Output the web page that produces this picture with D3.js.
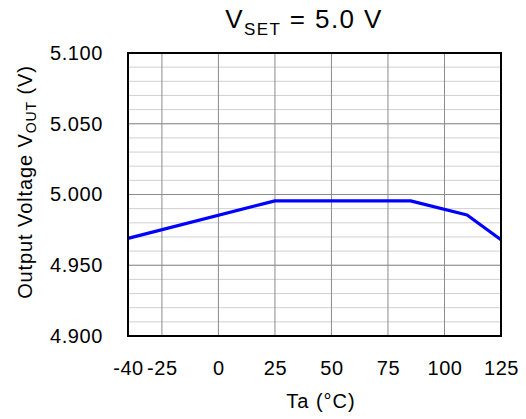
<!DOCTYPE html>
<html>
<head>
<meta charset="utf-8">
<script src="https://cdn.jsdelivr.net/npm/d3@7"></script>
<style>
  body { margin: 0; background: #fff; }
  svg { font-family: "Liberation Sans", Arial, sans-serif; }
</style>
</head>
<body>
<div id="graf"></div>
<script>
// datos
temps = [-40, 25, 85, 110, 125]
vout = [4.969, 4.9955, 4.9955, 4.9855, 4.968]
xTicks = [-40, -25, 0, 25, 50, 75, 100, 125]
yMajor = [4.900, 4.950, 5.000, 5.050, 5.100]

ancho_total = 526
alto_total = 419
margins = { top: 53, left: 128, right: 25, bottom: 83 }
ancho = ancho_total - margins.left - margins.right
alto = alto_total - margins.top - margins.bottom

svg = d3.select('#graf').append('svg')
  .attr('width', ancho_total)
  .attr('height', alto_total)

g = svg.append('g')
  .attr('transform', `translate(${margins.left},${margins.top})`)

x = d3.scaleLinear().domain([-40, 125]).range([0, ancho])
y = d3.scaleLinear().domain([4.9, 5.1]).range([alto, 0])

// grilla menor (cada 0.01)
yMinor = d3.range(0, 21).map(i => 4.9 + i * 0.01)
g.selectAll('.minor').data(yMinor).enter().append('line')
  .attr('x1', 0).attr('x2', ancho)
  .attr('y1', d => y(d)).attr('y2', d => y(d))
  .attr('stroke', '#d0d0d0').attr('stroke-width', 1)

g.selectAll('.major').data(yMajor).enter().append('line')
  .attr('x1', 0).attr('x2', ancho)
  .attr('y1', d => y(d)).attr('y2', d => y(d))
  .attr('stroke', '#8c8c8c').attr('stroke-width', 1)

g.selectAll('.vgrid').data(xTicks).enter().append('line')
  .attr('x1', d => x(d)).attr('x2', d => x(d))
  .attr('y1', 0).attr('y2', alto)
  .attr('stroke', '#8c8c8c').attr('stroke-width', 1)

// linea de datos
linea = d3.line().x((d, i) => x(temps[i])).y(d => y(d))
g.append('path')
  .datum(vout)
  .attr('d', linea)
  .attr('fill', 'none')
  .attr('stroke', '#0000ff')
  .attr('stroke-width', 3.2)
  .attr('stroke-linejoin', 'round')

// borde
g.append('rect')
  .attr('width', ancho).attr('height', alto)
  .attr('fill', 'none').attr('stroke', '#000').attr('stroke-width', 2)

// ejes
xAxis = d3.axisBottom(x).tickValues(xTicks).tickFormat(d => String(d)).tickSize(0)
g.append('g').attr('transform', `translate(0,${alto})`).call(xAxis)
  .call(a => a.select('.domain').remove())
  .selectAll('text').style('font-size', '20px').style('letter-spacing', '0.6px')
  .attr('fill', '#000').attr('dy', 0).attr('y', 39)

yAxis = d3.axisLeft(y).tickValues(yMajor).tickFormat(d3.format('.3f')).tickSize(0).tickPadding(25)
g.append('g').call(yAxis)
  .call(a => a.select('.domain').remove())
  .selectAll('text').style('font-size', '20px').style('letter-spacing', '0.6px')
  .attr('fill', '#000')

// titulo
titulo = svg.append('text')
  .attr('x', 304).attr('y', 28)
  .attr('text-anchor', 'middle')
  .style('font-size', '26px')
  .style('letter-spacing', '1.4px')
titulo.append('tspan').text('V')
titulo.append('tspan').text('SET').attr('dy', 7).style('font-size', '17px')
titulo.append('tspan').text(' = 5.0 V').attr('dy', -7)

// etiqueta x
svg.append('text')
  .attr('x', 321).attr('y', 408)
  .attr('text-anchor', 'middle')
  .style('font-size', '20px')
  .style('letter-spacing', '1px')
  .text('Ta (°C)')

// etiqueta y
ylab = svg.append('text')
  .attr('transform', 'translate(32,182) rotate(-90)')
  .attr('text-anchor', 'middle')
  .style('font-size', '20px')
  .style('letter-spacing', '0.9px')
ylab.append('tspan').text('Output Voltage V')
ylab.append('tspan').text('OUT').attr('dy', 4).style('font-size', '14px')
ylab.append('tspan').text(' (V)').attr('dy', -4)
</script>
</body>
</html>
